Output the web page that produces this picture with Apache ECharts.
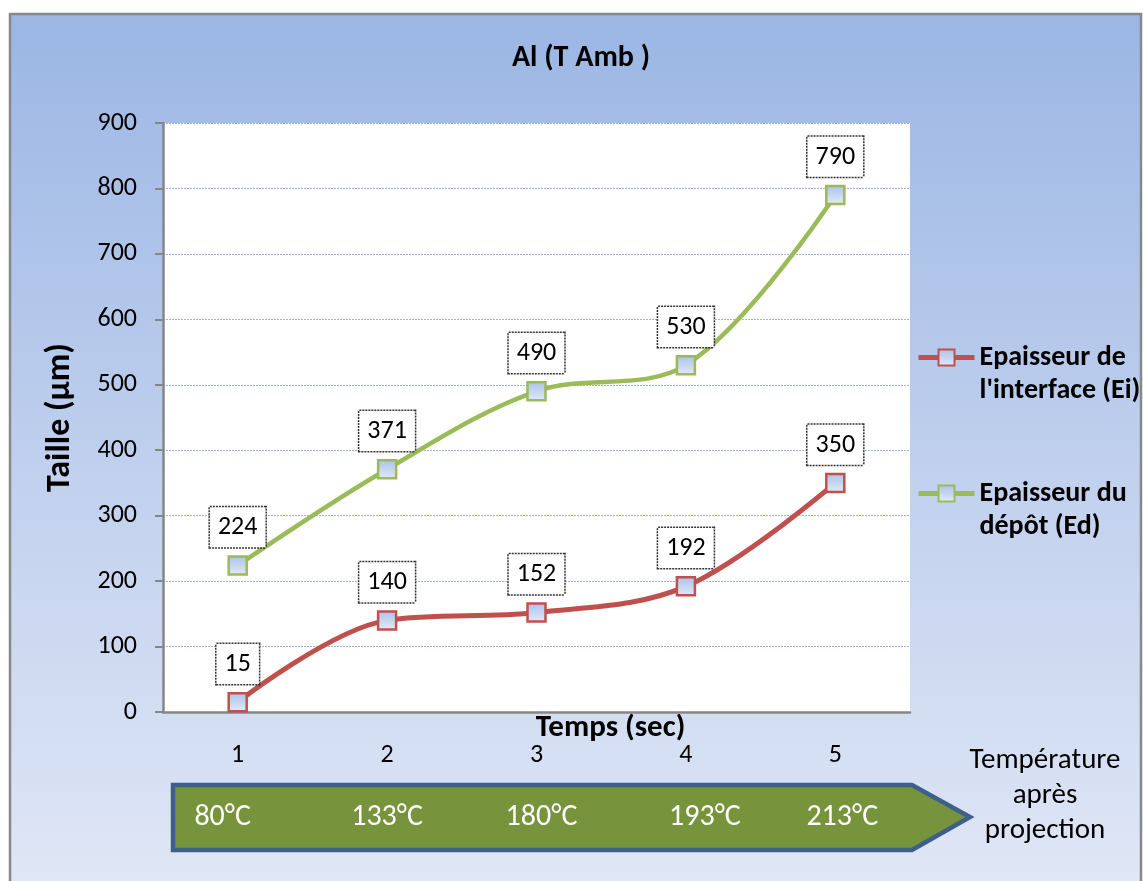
<!DOCTYPE html>
<html lang="fr">
<head>
    <meta charset="UTF-8" />
    <title>Al (T Amb )</title>
    <script src="https://cdn.jsdelivr.net/npm/echarts@6/dist/echarts.min.js"></script>
    <style>
        html, body { margin: 0; padding: 0; background: #fff; }
    </style>
</head>
<body>
    <div id="main" style="width: 1143px; height: 881px"></div>
    <script>
        // données
        var temps = ["1", "2", "3", "4", "5"];
        var temperatures = ["80°C", "133°C", "180°C", "193°C", "213°C"];
        var epInterface = [15, 140, 152, 192, 350];
        var epDepot = [224, 371, 490, 530, 790];
        var nomsSeries = ["Epaisseur de\nl'interface (Ei)", "Epaisseur du\ndépôt (Ed)"];

        var police = "Carlito, Lato, 'Noto Sans', sans-serif";
        var mChart = echarts.init(document.getElementById("main"));

        // remplissage des marqueurs carrés
        var remplissage = new echarts.graphic.LinearGradient(0, 0, 0, 1, [
            { offset: 0, color: "#a9c1ea" },
            { offset: 1, color: "#e3ebf8" }
        ]);

        // petits décalages des températures dans la flèche (px, + = vers la droite)
        var decalages = [-15, 0, 5, 19, 7];
        var richTemp = {};
        decalages.forEach(function (d, i) {
            richTemp["t" + i] = {
                fontSize: 30,
                color: "#fff",
                fontFamily: police,
                padding: d >= 0 ? [0, 0, 0, 2 * d] : [0, -2 * d, 0, 0]
            };
        });

        function etiquette() {
            return {
                show: true,
                position: "top",
                distance: 8,
                color: "#000",
                fontSize: 26,
                lineHeight: 27,
                fontFamily: police,
                backgroundColor: "#fff",
                borderColor: "#333",
                borderWidth: 1.5,
                borderType: [2, 1],
                padding: [7, 8, 6, 8]
            };
        }

        var option = {
            animation: false,
            textStyle: { fontFamily: police },
            title: {
                text: "Al (T Amb )",
                left: 576,
                textAlign: "center",
                top: 38,
                textStyle: { fontSize: 30, fontWeight: "bold", color: "#000", fontFamily: police }
            },
            graphic: [
                {
                    type: "rect",
                    z: -10,
                    shape: { x: 10, y: 14, width: 1131, height: 880 },
                    style: {
                        fill: new echarts.graphic.LinearGradient(0, 0, 0, 1, [
                            { offset: 0, color: "#9bb6e4" },
                            { offset: 0.6, color: "#c6d4ef" },
                            { offset: 1, color: "#e0e7f6" }
                        ]),
                        stroke: "#888",
                        lineWidth: 2.5
                    }
                },
                {
                    type: "polygon",
                    z: 1,
                    shape: { points: [[173, 785], [912, 785], [970, 817], [912, 850], [173, 850]] },
                    style: { fill: "#77933c", stroke: "#3e5f8a", lineWidth: 4.5 }
                },
                {
                    type: "text",
                    z: 5,
                    x: 1045,
                    y: 743,
                    style: {
                        text: "Température\naprès\nprojection",
                        fontSize: 29,
                        lineHeight: 35,
                        fontFamily: police,
                        fill: "#000",
                        align: "center"
                    }
                }
            ],
            legend: {
                orient: "vertical",
                left: 911,
                top: 303,
                itemWidth: 56,
                itemHeight: 20,
                itemGap: 37,
                data: nomsSeries,
                lineStyle: { width: 5 },
                formatter: function (nom) {
                    return " \n" + nom;
                },
                textStyle: {
                    fontSize: 28,
                    fontWeight: "bold",
                    color: "#000",
                    lineHeight: 33,
                    fontFamily: police
                }
            },
            grid: {
                left: 163,
                top: 123,
                width: 747,
                height: 589,
                show: true,
                backgroundColor: "#fff",
                borderWidth: 0
            },
            xAxis: [
                {
                    type: "category",
                    data: temps,
                    name: "Temps (sec)",
                    nameLocation: "middle",
                    nameGap: 1,
                    nameMoveOverlap: false,
                    nameTextStyle: {
                        fontSize: 31,
                        fontWeight: "bold",
                        color: "#000",
                        verticalAlign: "top",
                        padding: [0, 0, 0, 148],
                        fontFamily: police
                    },
                    axisLine: { lineStyle: { color: "#868686", width: 2.5 } },
                    axisTick: { show: false },
                    axisLabel: { fontSize: 26, color: "#000", margin: 30, fontFamily: police }
                },
                {
                    type: "category",
                    position: "bottom",
                    offset: 90,
                    data: temperatures,
                    axisLine: { show: false },
                    axisTick: { show: false },
                    axisLabel: {
                        margin: 0,
                        formatter: function (v, i) {
                            return "{t" + i + "|" + v + "}";
                        },
                        rich: richTemp
                    },
                    z: 10
                }
            ],
            yAxis: {
                type: "value",
                min: 0,
                max: 900,
                interval: 100,
                name: "Taille (µm)",
                nameLocation: "middle",
                nameGap: 86,
                nameTextStyle: { fontSize: 34, fontWeight: "bold", color: "#000", fontFamily: police },
                axisLine: { show: true, lineStyle: { color: "#868686", width: 2.5 } },
                axisTick: { show: true, length: 8, lineStyle: { color: "#868686", width: 2 } },
                axisLabel: { fontSize: 26, color: "#000", margin: 26, fontFamily: police },
                splitLine: { lineStyle: { color: "#9fb6de", width: 1.2, type: [2, 1] } }
            },
            series: [
                {
                    name: nomsSeries[0],
                    type: "line",
                    data: epInterface,
                    smooth: 0.35,
                    symbol: "rect",
                    symbolSize: 18,
                    lineStyle: { color: "#c0504d", width: 5 },
                    itemStyle: { color: remplissage, borderColor: "#c0504d", borderWidth: 2.5 },
                    label: etiquette(),
                    z: 3
                },
                {
                    name: nomsSeries[1],
                    type: "line",
                    data: epDepot,
                    smooth: 0.35,
                    symbol: "rect",
                    symbolSize: 18,
                    lineStyle: { color: "#9bbb59", width: 4.5 },
                    itemStyle: { color: remplissage, borderColor: "#9bbb59", borderWidth: 2.5 },
                    label: etiquette(),
                    z: 3
                }
            ]
        };
        mChart.setOption(option);
    </script>
</body>
</html>
